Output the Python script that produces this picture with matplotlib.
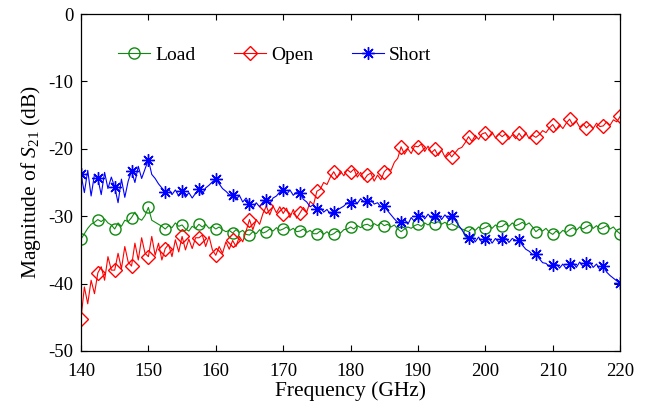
import numpy as np
import matplotlib
matplotlib.use("Agg")
import matplotlib.pyplot as plt

plt.rcParams["font.family"] = ["Liberation Serif", "DejaVu Serif"]
plt.rcParams["mathtext.fontset"] = "custom"
plt.rcParams["mathtext.rm"] = "Liberation Serif"
plt.rcParams["mathtext.it"] = "Liberation Serif:italic"
plt.rcParams["axes.unicode_minus"] = False

# frequency grid, 0.5 GHz steps (markers every 2.5 GHz)
freq = np.arange(140, 220.01, 0.5)

load = [
    -33.4, -32.6, -31.8, -31.2, -30.9,
    -30.5, -30.8, -30.4, -31.0, -31.3,
    -31.9, -31.0, -31.5, -30.6, -30.8,
    -30.2, -29.4, -30.3, -30.6, -29.9,
    -28.7, -30.6, -30.9, -31.2, -31.5,
    -31.9, -31.4, -31.7, -31.0, -31.5,
    -31.3, -31.9, -32.2, -31.5, -31.8,
    -31.2, -31.6, -31.2, -31.8, -31.5,
    -31.9, -31.6, -32.0, -32.3, -32.1,
    -32.5, -32.0, -32.4, -32.1, -32.7,
    -32.8, -32.3, -32.6, -32.0, -32.5,
    -32.3, -31.9, -32.2, -31.7, -32.1,
    -31.9, -31.6, -32.1, -31.8, -32.3,
    -32.2, -31.9, -32.4, -32.1, -32.6,
    -32.6, -32.2, -32.7, -32.3, -32.8,
    -32.6, -32.2, -32.5, -32.0, -31.9,
    -31.6, -31.9, -31.4, -31.7, -31.3,
    -31.2, -31.5, -31.1, -31.4, -31.0,
    -31.4, -31.2, -31.6, -31.3, -31.9,
    -32.3, -31.9, -31.6, -31.8, -31.4,
    -31.2, -31.5, -31.0, -31.3, -30.9,
    -31.1, -30.8, -31.2, -30.9, -31.3,
    -31.1, -31.4, -31.6, -31.9, -32.1,
    -32.3, -31.8, -32.1, -31.6, -31.9,
    -31.7, -31.4, -31.8, -31.3, -31.6,
    -31.5, -31.1, -31.5, -31.0, -31.4,
    -31.2, -30.9, -31.3, -31.0, -31.6,
    -32.3, -31.9, -32.2, -31.8, -32.4,
    -32.7, -32.2, -32.6, -32.1, -32.4,
    -32.0, -31.7, -32.1, -31.6, -31.9,
    -31.6, -31.3, -31.8, -31.4, -31.9,
    -31.7, -31.4, -31.9, -31.6, -32.2,
    -32.6,
]

open_ = [
    -45.2, -40.5, -43.0, -39.5, -41.5,
    -38.4, -37.5, -39.5, -36.0, -38.0,
    -38.0, -35.5, -37.8, -34.5, -36.8,
    -37.4, -34.0, -36.5, -33.2, -35.5,
    -36.0, -33.0, -35.8, -34.0, -36.5,
    -34.8, -34.2, -36.0, -33.5, -35.3,
    -33.0, -35.0, -33.4, -34.8, -33.2,
    -33.2, -32.8, -34.5, -33.0, -35.0,
    -35.8, -34.5, -35.5, -33.8, -34.9,
    -33.6, -34.5, -33.0, -33.8, -32.2,
    -30.5, -32.0, -30.5, -31.2, -29.6,
    -28.5, -29.8, -28.5, -29.5, -28.6,
    -29.6, -28.8, -30.2, -29.0, -30.3,
    -29.5, -28.7, -29.4, -27.8, -28.3,
    -26.3, -26.0, -25.0, -25.3, -24.2,
    -23.4, -24.3, -23.3, -24.0, -23.1,
    -23.5, -23.0, -24.2, -23.5, -24.6,
    -23.9, -23.6, -24.8, -23.9, -24.6,
    -23.4, -22.9, -23.2, -22.0, -21.4,
    -19.7, -20.8, -20.0, -20.7, -19.6,
    -19.7, -19.3, -20.4, -19.6, -20.6,
    -20.1, -21.0, -20.2, -21.2, -20.5,
    -21.2, -20.6, -20.0, -19.8, -19.1,
    -18.2, -18.9, -18.0, -18.6, -17.8,
    -17.6, -18.3, -17.5, -18.4, -17.8,
    -18.2, -17.8, -18.6, -17.9, -18.5,
    -17.7, -18.4, -17.6, -18.5, -18.0,
    -18.3, -17.9, -17.3, -17.6, -16.9,
    -16.4, -17.2, -16.4, -17.0, -16.2,
    -15.6, -16.5, -15.9, -16.8, -16.3,
    -16.9, -16.4, -17.0, -16.2, -16.7,
    -16.6, -16.0, -16.5, -15.7, -16.0,
    -15.2,
]

short = [
    -23.8, -26.5, -23.2, -27.0, -23.8,
    -24.4, -26.8, -23.5, -25.9, -24.2,
    -25.7, -28.0, -24.5, -27.2, -24.8,
    -23.3, -25.0, -22.6, -24.4, -23.0,
    -21.6, -23.8, -24.4, -25.2, -25.8,
    -26.4, -25.9, -26.8, -26.1, -27.0,
    -26.2, -27.2, -26.5, -27.3, -26.6,
    -26.0, -26.8, -25.8, -25.4, -24.9,
    -24.5, -25.2, -25.9, -26.3, -26.8,
    -26.9, -27.6, -26.9, -27.9, -27.3,
    -28.2, -28.9, -28.0, -28.6, -27.9,
    -27.6, -28.2, -27.3, -27.0, -26.4,
    -26.1, -26.8, -26.1, -26.9, -26.4,
    -26.6, -27.5, -27.9, -28.6, -28.3,
    -28.9, -28.7, -29.4, -29.0, -29.7,
    -29.4, -29.1, -28.8, -28.5, -28.0,
    -28.1, -27.6, -28.1, -27.4, -27.9,
    -27.7, -27.5, -28.2, -28.0, -28.6,
    -28.5, -29.2, -29.8, -30.4, -30.9,
    -30.9, -30.4, -31.2, -30.2, -30.8,
    -29.9, -29.6, -30.4, -29.7, -30.3,
    -29.9, -29.7, -30.5, -29.8, -30.4,
    -29.9, -30.6, -31.3, -32.0, -32.8,
    -33.3, -33.0, -33.8, -33.1, -33.9,
    -33.4, -33.2, -34.0, -33.3, -33.9,
    -33.4, -33.2, -33.9, -33.3, -33.6,
    -33.6, -34.3, -34.9, -35.2, -35.7,
    -35.6, -36.3, -36.9, -37.0, -37.5,
    -37.3, -37.0, -37.7, -37.1, -37.8,
    -37.1, -36.9, -37.6, -36.8, -37.5,
    -36.9, -36.8, -37.6, -37.1, -38.0,
    -37.4, -38.3, -38.8, -39.2, -39.6,
    -39.9,
]

fig = plt.figure(figsize=(6.48, 4.07), dpi=100)
ax = fig.add_axes([0.125, 0.1376, 0.832, 0.828])

ax.plot(freq, load, color="#108a10", lw=0.8, marker="o", markersize=8,
        markerfacecolor="none", markevery=5, label="Load")
ax.plot(freq, open_, color="#ff0000", lw=0.8, marker="D", markersize=7,
        markerfacecolor="none", markevery=5, label="Open")
ax.plot(freq, short, color="#0000ff", lw=0.8, marker=(8, 2, 0), markersize=9,
        markevery=5, label="Short")

ax.set_xlim(140, 220)
ax.set_ylim(-50, 0)
ax.set_xticks(np.arange(140, 221, 10))
ax.set_yticks(np.arange(-50, 1, 10))
ax.tick_params(direction="in", top=True, right=True, length=4, width=0.8,
               labelsize=13.5)
ax.tick_params(axis="x", pad=8.5)
ax.tick_params(axis="y", pad=5.5)
for s in ax.spines.values():
    s.set_linewidth(0.9)

ax.set_xlabel("Frequency (GHz)", fontsize=15.5, labelpad=1)
ax.set_ylabel(r"Magnitude of $\mathit{S}_{21}$ (dB)", fontsize=15.5, labelpad=4)

ax.legend(loc="center left", bbox_to_anchor=(0.069, 0.878), ncol=3,
          frameon=False, fontsize=14, handlelength=1.65, handletextpad=0.25,
          columnspacing=2.0, borderpad=0, borderaxespad=0)

fig.savefig("out.png", dpi=100)
